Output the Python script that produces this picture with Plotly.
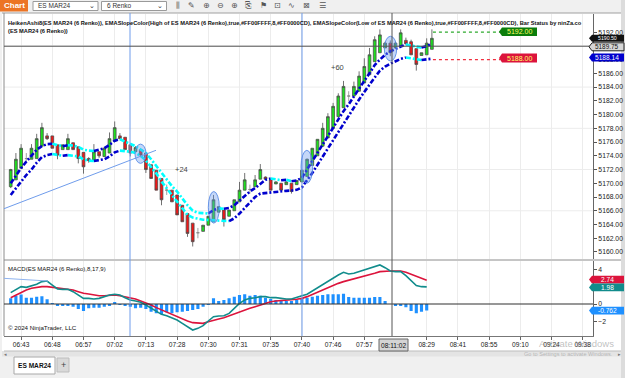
import plotly.graph_objects as go

# ---------------- data ----------------
bar_open = [5169.5, 5170.5, 5172.2, 5173.6, 5173.5, 5173.6, 5175.4, 5176.9, 5176.9, 5175.6,
            5174.9, 5174.9, 5175.9, 5175.3, 5174.5, 5173.6, 5173.4, 5174.6, 5173.9, 5174.4,
            5176.1, 5176.9, 5176.7, 5175.6, 5174.6, 5174.9, 5174.4, 5172.7, 5171.9, 5170.7,
            5169.0, 5169.0, 5168.3, 5166.8, 5165.6, 5164.2, 5162.8, 5163.0, 5163.9, 5164.4,
            5165.8, 5166.1, 5165.2, 5166.0, 5167.3, 5169.0, 5169.1, 5169.5, 5170.6, 5170.9,
            5170.5, 5169.9, 5170.0, 5169.8, 5170.0, 5169.8, 5170.2, 5171.0, 5172.6, 5174.0,
            5175.4, 5176.6, 5178.0, 5179.7, 5181.0, 5182.7, 5182.7, 5183.4, 5184.6, 5185.8,
            5187.7, 5189.0, 5189.7, 5190.4, 5189.7, 5189.9, 5190.8, 5190.6, 5189.6, 5188.6,
            5188.7, 5189.5]
bar_high = [5172.1, 5174.4, 5175.7, 5174.4, 5175.7, 5177.2, 5178.8, 5177.3, 5176.9, 5175.6,
            5175.6, 5177.2, 5175.9, 5175.3, 5174.5, 5173.8, 5175.7, 5174.6, 5175.3, 5177.4,
            5179.0, 5177.3, 5176.7, 5175.6, 5175.4, 5174.9, 5174.4, 5172.7, 5171.9, 5170.7,
            5169.8, 5169.0, 5168.3, 5166.8, 5165.6, 5164.2, 5163.5, 5163.9, 5165.2, 5168.3,
            5166.6, 5166.1, 5166.1, 5167.6, 5170.2, 5171.5, 5169.8, 5171.2, 5172.8, 5171.0,
            5170.5, 5170.3, 5170.0, 5170.3, 5170.0, 5170.4, 5172.0, 5173.6, 5175.1, 5176.4,
            5178.8, 5180.2, 5181.7, 5183.1, 5184.9, 5183.4, 5184.8, 5186.3, 5188.2, 5189.7,
            5191.4, 5192.4, 5190.6, 5190.8, 5190.6, 5192.4, 5191.2, 5190.9, 5189.6, 5189.0,
            5191.1, 5192.4]
bar_low = [5169.3, 5170.5, 5172.2, 5173.0, 5173.5, 5173.6, 5175.4, 5176.3, 5175.1, 5173.5,
           5174.9, 5174.9, 5174.9, 5172.9, 5171.4, 5173.0, 5173.4, 5173.7, 5173.9, 5174.4,
           5176.1, 5176.4, 5174.9, 5173.9, 5174.6, 5173.8, 5171.5, 5170.7, 5169.0, 5166.8,
           5168.3, 5167.3, 5165.4, 5164.4, 5162.2, 5160.8, 5162.0, 5163.0, 5163.9, 5164.4,
           5165.8, 5163.7, 5165.2, 5166.0, 5167.3, 5169.0, 5168.5, 5169.5, 5170.6, 5170.6,
           5169.0, 5169.9, 5169.0, 5169.8, 5168.5, 5169.8, 5170.2, 5171.0, 5172.6, 5174.0,
           5175.4, 5176.6, 5178.0, 5179.7, 5181.0, 5181.9, 5182.7, 5183.4, 5184.6, 5185.8,
           5187.7, 5189.0, 5189.7, 5188.5, 5189.7, 5189.9, 5190.3, 5188.7, 5186.4, 5188.6,
           5188.7, 5189.5]
bar_close = [5172.0, 5173.5, 5175.1, 5173.6, 5175.1, 5176.5, 5178.1, 5176.5, 5175.1, 5174.1,
             5175.6, 5176.5, 5174.9, 5173.6, 5172.4, 5173.3, 5174.6, 5174.0, 5175.1, 5176.5,
             5178.1, 5176.5, 5174.9, 5174.4, 5175.2, 5174.1, 5172.0, 5170.7, 5169.0, 5167.6,
             5169.0, 5167.3, 5165.4, 5164.4, 5162.7, 5161.5, 5162.8, 5163.9, 5165.2, 5167.6,
             5166.6, 5164.7, 5166.1, 5167.6, 5169.0, 5170.5, 5169.1, 5170.5, 5172.0, 5170.6,
             5169.0, 5170.2, 5169.0, 5170.2, 5168.8, 5170.4, 5171.9, 5173.5, 5175.1, 5176.4,
             5178.0, 5179.7, 5181.2, 5182.7, 5184.1, 5182.7, 5184.1, 5185.6, 5187.0, 5188.7,
             5190.9, 5191.6, 5190.4, 5189.0, 5190.4, 5191.9, 5190.3, 5188.7, 5187.3, 5189.0,
             5190.4, 5191.1]

ema_high = [5170.0, 5171.2, 5172.2, 5173.15, 5174.1, 5174.9, 5175.4, 5175.7, 5175.75, 5175.6,
            5175.4, 5175.55, 5175.5, 5175.3, 5174.9, 5174.75, 5174.7, 5174.9, 5175.1, 5175.6,
            5176.2, 5176.4, 5176.1, 5175.7, 5175.4, 5174.9, 5174.4, 5173.5, 5172.5, 5171.45,
            5170.5, 5169.6, 5168.8, 5167.8, 5166.8, 5166.0, 5165.7, 5165.65, 5165.6, 5166.1,
            5166.35, 5166.3, 5166.4, 5166.8, 5167.5, 5168.2, 5168.8, 5169.3, 5169.9, 5170.5,
            5170.7, 5170.6, 5170.45, 5170.5, 5170.3, 5170.4, 5170.8, 5172.0, 5173.3, 5174.6,
            5175.7, 5177.0, 5178.05, 5179.3, 5180.5, 5181.5, 5182.7, 5183.8, 5184.9, 5186.0,
            5187.2, 5188.0, 5188.7, 5189.2, 5189.6, 5189.9, 5190.2, 5190.1, 5189.9, 5189.75,
            5189.95, 5190.3]
ema_low = [5168.3, 5169.3, 5170.2, 5171.2, 5172.0, 5173.0, 5173.8, 5174.1, 5174.25, 5174.1,
           5174.0, 5174.1, 5174.05, 5173.9, 5173.5, 5173.3, 5173.25, 5173.4, 5173.5, 5173.9,
           5174.5, 5174.75, 5174.7, 5174.6, 5174.4, 5174.0, 5173.3, 5172.4, 5171.45, 5170.25,
           5169.3, 5168.3, 5167.3, 5166.4, 5165.4, 5165.0, 5164.8, 5164.7, 5164.65, 5164.6,
           5164.6, 5164.55, 5164.5, 5164.9, 5165.6, 5166.4, 5167.2, 5168.0, 5168.5, 5168.6,
           5168.7, 5168.8, 5168.85, 5168.9, 5168.95, 5169.05, 5169.4, 5170.4, 5171.5, 5172.7,
           5173.9, 5175.1, 5176.35, 5177.6, 5178.8, 5179.9, 5181.1, 5182.2, 5183.3, 5184.4,
           5185.4, 5186.4, 5187.0, 5187.4, 5187.75, 5188.1, 5188.3, 5188.2, 5188.0, 5187.95,
           5188.0, 5188.14]

macd_line = [1.31, 1.62, 2.0, 1.92, 2.12, 2.27, 2.58, 2.65, 2.19, 1.73,
             1.69, 1.69, 1.42, 1.04, 0.65, 0.65, 0.58, 0.65, 0.85, 1.04,
             1.12, 1.04, 0.73, 0.46, 0.35, 0.19, -0.12, -0.5, -0.88, -1.19,
             -1.35, -1.58, -1.85, -2.23, -2.62, -3.0, -2.81, -2.5, -1.96, -1.46,
             -1.38, -1.35, -1.08, -0.5, 0.08, 0.46, 0.65, 0.73, 0.85, 0.85,
             0.73, 0.73, 0.65, 0.58, 0.58, 0.73, 0.95, 1.12, 1.5, 1.88,
             2.27, 2.65, 3.04, 3.35, 3.65, 3.46, 3.54, 3.73, 3.92, 4.12,
             4.31, 4.5, 4.19, 3.81, 3.73, 3.73, 3.27, 2.65, 2.12, 2.0, 1.98]
macd_avg = [0.73, 1.04, 1.35, 1.62, 1.81, 1.92, 2.0, 2.0, 1.92, 1.88,
            1.81, 1.73, 1.62, 1.42, 1.23, 1.15, 1.04, 0.96, 0.96, 1.04,
            1.04, 0.96, 0.85, 0.73, 0.58, 0.35, 0.15, -0.12, -0.42, -0.69,
            -0.96, -1.19, -1.46, -1.73, -1.96, -2.15, -2.23, -2.23, -2.04, -1.85,
            -1.73, -1.58, -1.35, -1.19, -0.96, -0.69, -0.5, -0.31, -0.12, 0.08,
            0.27, 0.35, 0.42, 0.46, 0.5, 0.54, 0.65, 0.85, 1.12, 1.35,
            1.62, 1.88, 2.19, 2.38, 2.58, 2.73, 2.88, 3.04, 3.19, 3.35,
            3.54, 3.73, 3.81, 3.81, 3.81, 3.81, 3.65, 3.42, 3.15, 2.96, 2.74]
macd_diff = [0.65, 0.96, 1.1, 0.73, 0.73, 0.85, 0.88, 0.54, 0.08, -0.19,
             -0.19, -0.12, -0.31, -0.58, -0.81, -0.5, -0.42, -0.42, -0.31, -0.12,
             0.19, -0.04, -0.12, -0.31, -0.5, -0.42, -0.58, -0.88, -1.08, -1.19,
             -0.96, -1.08, -0.96, -0.88, -0.81, -0.69, -0.58, -0.31, -0.04, 0.65,
             0.35, 0.46, 0.65, 0.85, 1.04, 1.12, 0.96, 1.04, 0.96, 0.73,
             0.58, 0.46, 0.46, 0.35, 0.35, 0.46, 0.7, 0.73, 0.85, 0.96,
             1.04, 1.12, 1.12, 1.12, 1.19, 0.81, 0.73, 0.73, 0.73, 0.73,
             0.81, 0.81, 0.35, 0.0, -0.12, -0.12, -0.38, -0.81, -1.08, -0.88, -0.762]

tick_bars = [2, 8, 14, 20, 26, 32, 38, 44, 50, 56, 62, 68, 80, 86, 92, 98, 104, 110]
time_labels = ["06:43", "06:48", "06:57", "07:02", "07:13", "07:28", "07:30", "07:31", "07:35",
               "07:40", "07:46", "07:57", "08:29", "08:41", "08:55", "09:10", "09:24", "09:38"]
cursor_time = "08:11:02"
cursor_price = 5189.75
last_price = 5190.50
status_up = 5192.00
status_down = 5188.00
price_ticks = list(range(5160, 5193, 2))
macd_ticks = [-2, 0, 2, 4]

# ---------------- geometry ----------------
W, H = 625, 378
def px(x): return x / W
def py(y): return 1 - y / H
PL, PR = 4, 593
PT, PB = 14, 259
MT, MB = 261, 335.5
BAR0, BARW = 10.7, 5.2
def bx(xpix): return (xpix - BAR0) / BARW
XR = [bx(PL), bx(PR)]
YR = [5174 - (PB - 155.8) / 6.87, 5174 + (155.8 - PT) / 6.87]
YR2 = [(304 - MB) / 8.67, (304 - MT) / 8.67]

BLUE, CYAN = "#0000CD", "#00FFFF"
FONT = "Liberation Sans"

n = len(bar_close)
idx = list(range(n))
fig = go.Figure()

def cs(ids, fill, line):
    sty = dict(fillcolor=fill, line=dict(color=line, width=0.8))
    return go.Candlestick(x=ids, open=[bar_open[i] for i in ids], high=[bar_high[i] for i in ids],
                          low=[bar_low[i] for i in ids], close=[bar_close[i] for i in ids],
                          increasing=sty, decreasing=sty, whiskerwidth=0, xaxis="x", yaxis="y",
                          showlegend=False, hoverinfo="skip")

up = [i for i in idx if bar_close[i] > bar_open[i]]
dn = [i for i in idx if bar_close[i] < bar_open[i]]
fl = [i for i in idx if bar_close[i] == bar_open[i]]
fig.add_trace(cs(up, "#1EE01E", "#4d4d4d"))
fig.add_trace(cs(dn, "#F01818", "#4d4d4d"))
fig.add_trace(cs(fl, "#9a9a9a", "#8a8a8a"))

def slope_runs(vals):
    runs = []
    for i in range(len(vals) - 1):
        col = BLUE if vals[i + 1] > vals[i] else CYAN
        if runs and runs[-1][0] == col:
            runs[-1][1].append(i + 1); runs[-1][2].append(vals[i + 1])
        else:
            runs.append([col, [i, i + 1], [vals[i], vals[i + 1]]])
    return runs

for band in (ema_high, ema_low):
    for col, xs, ys in slope_runs(band):
        fig.add_trace(go.Scatter(x=xs, y=ys, mode="lines", xaxis="x", yaxis="y",
                                 line=dict(color=col, width=2.6, dash="5px,2px,2px,2px"),
                                 showlegend=False, hoverinfo="skip"))

m = len(macd_diff)
fig.add_trace(go.Bar(x=idx[:m], y=macd_diff, marker=dict(color="#1E90FF", line=dict(width=0)),
                     width=0.6, xaxis="x2", yaxis="y2", showlegend=False, hoverinfo="skip"))
fig.add_trace(go.Scatter(x=idx[:m], y=macd_avg, mode="lines", line=dict(color="#DC143C", width=1.6),
                         xaxis="x2", yaxis="y2", showlegend=False, hoverinfo="skip"))
fig.add_trace(go.Scatter(x=idx[:m], y=macd_line, mode="lines", line=dict(color="#118C8C", width=1.6),
                         xaxis="x2", yaxis="y2", showlegend=False, hoverinfo="skip"))

shapes = []
def rect(x0, y0, x1, y1, fill, line=None, lw=1, layer="below"):
    shapes.append(dict(type="rect", xref="paper", yref="paper", x0=px(x0), x1=px(x1), y0=py(y0), y1=py(y1),
                       fillcolor=fill, line=dict(color=line or fill, width=lw if line else 0), layer=layer))
def pline(x0, y0, x1, y1, color, w=1, layer="above", dash=None):
    shapes.append(dict(type="line", xref="paper", yref="paper", x0=px(x0), x1=px(x1), y0=py(y0), y1=py(y1),
                       line=dict(color=color, width=w, dash=dash), layer=layer))
def tag(xtip, xr, yc, h, fill, line=None):
    xb = xtip + 3
    path = (f"M{px(xtip)},{py(yc)} L{px(xb)},{py(yc - h / 2)} L{px(xr)},{py(yc - h / 2)} "
            f"L{px(xr)},{py(yc + h / 2)} L{px(xb)},{py(yc + h / 2)} Z")
    shapes.append(dict(type="path", xref="paper", yref="paper", path=path, fillcolor=fill,
                       line=dict(color=line or fill, width=1 if line else 0), layer="above"))

# chrome
rect(2, 13, 621, 351, "white")
rect(0, 0, 28, 11.5, "#EC7424")
rect(33, 1.5, 98, 10.5, "white", "#9a9a9a")
rect(101.5, 1.5, 166.5, 10.5, "white", "#9a9a9a")
rect(2, 351, 621, 356.5, "#e4e4e4")
rect(14, 357, 55, 374, "white", "#a8a8a8")
rect(57, 358, 69, 372, "#d9d9d9", "#bdbdbd")
rect(621, 0, 625, 378, "#dcdcdc")
pline(2, 13, 621, 13, "#a0a0a0")
pline(PL, 13, PL, 336, "#8c8c8c")
pline(PL, 260, 621, 260, "#8c8c8c")
pline(PL, 351, 621, 351, "#bdbdbd")

# grid
for g in range(5166, 5194, 6):
    shapes.append(dict(type="line", xref="paper", yref="y", x0=px(PL), x1=px(PR), y0=g, y1=g,
                       line=dict(color="#ececec", width=1), layer="below"))
shapes.append(dict(type="line", xref="paper", yref="y2", x0=px(PL), x1=px(PR), y0=0, y1=0,
                   line=dict(color="#303030", width=1.2), layer="above"))

# drawings
for xv in (bx(130), bx(302)):
    shapes.append(dict(type="line", xref="x", yref="paper", x0=xv, x1=xv, y0=py(336), y1=py(13),
                       line=dict(color="#6f9ceb", width=1), layer="above"))
shapes.append(dict(type="line", xref="x", yref="y", x0=bx(PL), y0=5166.3, x1=bx(156), y1=5174.8,
                   line=dict(color="#6f9ceb", width=1)))
shapes.append(dict(type="line", xref="x2", yref="y2", x0=bx(PL), y0=2.96, x1=bx(48), y1=2.65,
                   line=dict(color="#8fb3ef", width=1)))
for (x0, x1, y0, y1) in [(135, 146, 5172.9, 5175.7), (208.3, 219.3, 5164.2, 5168.8),
                         (301, 312.7, 5170.0, 5174.8), (384.3, 396.7, 5187.8, 5191.4)]:
    shapes.append(dict(type="circle", xref="x", yref="y", x0=bx(x0), x1=bx(x1), y0=y0, y1=y1,
                       fillcolor="rgba(100,149,237,0.38)", line=dict(color="rgba(90,140,230,0.9)", width=1)))
# crosshair
shapes.append(dict(type="line", xref="x", yref="paper", x0=bx(392), x1=bx(392), y0=py(336), y1=py(13),
                   line=dict(color="#555555", width=1), layer="above"))
shapes.append(dict(type="line", xref="paper", yref="y", x0=px(PL), x1=px(PR), y0=5189.95, y1=5189.95,
                   line=dict(color="#555555", width=1), layer="above"))
# bar status lines
shapes.append(dict(type="line", xref="x", yref="y", x0=n - 1 + 0.2, x1=bx(500), y0=status_up, y1=status_up,
                   line=dict(color="#2eaa2e", width=1.2, dash="dot")))
shapes.append(dict(type="line", xref="x", yref="y", x0=n - 1 + 0.2, x1=bx(500), y0=status_down, y1=status_down,
                   line=dict(color="#f03040", width=1.2, dash="dot")))

def ypx(price): return 155.8 - (price - 5174) * 6.87

tag(499, 537, ypx(status_up) - 0.5, 8.5, "#0B7D0B")
tag(499, 537, ypx(status_down) - 1.5, 9, "#DC143C")
tag(589, 624, 38.3, 7.0, "#111111")
tag(589, 624, 46.8, 8, "#d6d6d6", "#222222")
tag(589, 624, 57.5, 8, BLUE)
tag(589, 624, 279.6, 7.6, "#DC143C")
tag(589, 624, 287.4, 7.6, "#118C8C")
tag(589, 624, 310.6, 7.6, "#1E90FF")
rect(379, 339, 408, 351, "#d4d4d4", "#666666", layer="above")

anns = []
def txt(x, y, s, size=7, color="#111", anchor="left", bold=False, family=FONT, yanchor="middle"):
    anns.append(dict(xref="paper", yref="paper", x=px(x), y=py(y), text=(f"<b>{s}</b>" if bold else s),
                     showarrow=False, xanchor=anchor, yanchor=yanchor,
                     font=dict(size=size, color=color, family=family)))

title1 = ("HeikenAshi8(ES MAR24 (6 Renko)), EMASlopeColor(High of ES MAR24 (6 Renko),true,#FF00FFFF,8,#FF0000CD), "
          "EMASlopeColor(Low of ES MAR24 (6 Renko),true,#FF00FFFF,8,#FF0000CD), Bar Status by ninZa.co")
txt(6, 23, title1, size=5.7, bold=True)
txt(6, 31, "(ES MAR24 (6 Renko))", size=5.7, bold=True)
txt(6, 268.5, "MACD(ES MAR24 (6 Renko),8,17,9)", size=6.0)
txt(6, 327.5, "© 2024 NinjaTrader, LLC", size=6.2)
txt(14, 6, "Chart", size=8, color="white", anchor="center", bold=True)
txt(36, 6, "ES MAR24", size=6.5, color="#333")
txt(92, 6, "⌄", size=7, color="#333", anchor="center")
txt(105, 6, "6 Renko", size=6.5, color="#333")
txt(160, 6, "⌄", size=7, color="#333", anchor="center")
for xi, g in zip([178, 192, 206, 220, 234, 248, 263, 277, 291, 306, 322],
                 ["⫼", "✎", "⊕", "⊖", "⊕", "⎘", "⚑", "⊡", "∿", "⊠", "☰"]):
    txt(xi, 6, g, size=8, color="#555", anchor="center", family="DejaVu Sans")
anns.append(dict(xref="x", yref="y", x=bx(181), y=5172.05, text="+24", showarrow=False,
                 font=dict(size=7.5, color="#444", family=FONT)))
anns.append(dict(xref="x", yref="y", x=bx(337), y=5186.8, text="+60", showarrow=False,
                 font=dict(size=7.5, color="#444", family=FONT)))
txt(519, ypx(status_up) - 0.5, f"{status_up:.2f}", size=7, color="#FFFF66", anchor="center")
txt(519, ypx(status_down) - 1.5, f"{status_down:.2f}", size=7, color="#FFFF66", anchor="center")
txt(607, 38.0, f"{last_price:.2f}", size=5.2, color="white", anchor="center")
txt(607, 46.8, f"{cursor_price:.2f}", size=6.4, color="#111", anchor="center")
txt(607, 57.5, f"{ema_low[-1]:.2f}", size=6.6, color="white", anchor="center")
txt(607, 279.6, f"{macd_avg[-1]:.2f}", size=6.6, color="white", anchor="center")
txt(607, 287.4, f"{macd_line[-1]:.2f}", size=6.6, color="white", anchor="center")
txt(607, 310.6, f"{macd_diff[-1]:.3f}", size=6.6, color="white", anchor="center")
txt(393.5, 345, cursor_time, size=6.6, color="#111", anchor="center")
txt(34.5, 365.5, "ES MAR24", size=6.6, color="#111", anchor="center", bold=True)
txt(63, 365, "+", size=9, color="#444", anchor="center")
txt(6, 354, "◂", size=5, color="#777", anchor="center")
txt(619.5, 354, "▸", size=5, color="#777", anchor="center")
txt(616, 343, "Activate Windows", size=9.5, color="rgba(140,140,140,0.55)", anchor="right")
txt(615, 354, "Go to Settings to activate Windows.", size=5.6, color="rgba(140,140,140,0.55)", anchor="right")

axis_common = dict(range=XR, domain=[px(PL), px(PR)], tickvals=tick_bars, showgrid=True,
                   gridcolor="#ececec", gridwidth=1, zeroline=False, fixedrange=True)
fig.update_layout(
    width=W, height=H, margin=dict(l=0, r=0, t=0, b=0),
    paper_bgcolor="#f0f0f0", plot_bgcolor="white", boxgap=0.25, bargap=0.4,
    showlegend=False,
    xaxis=dict(**axis_common, anchor="y", showticklabels=False, ticks="", rangeslider=dict(visible=False)),
    yaxis=dict(domain=[py(PB), py(PT)], range=YR, side="right", anchor="x", tickvals=price_ticks,
               tickformat=".2f", showgrid=False, zeroline=False, ticks="outside", ticklen=3,
               tickcolor="#555", showline=True, linecolor="#666", linewidth=1,
               tickfont=dict(size=6.8, color="#222", family=FONT), fixedrange=True),
    xaxis2=dict(**axis_common, anchor="y2", ticktext=time_labels, ticks="outside", ticklen=3,
                tickcolor="#666", showline=True, linecolor="#777", linewidth=1,
                tickfont=dict(size=6.6, color="#222", family=FONT)),
    yaxis2=dict(domain=[py(MB), py(MT)], range=YR2, side="right", anchor="x2", tickvals=macd_ticks,
                showgrid=False, zeroline=False, ticks="outside", ticklen=3, tickcolor="#555",
                showline=True, linecolor="#666", linewidth=1,
                tickfont=dict(size=6.8, color="#222", family=FONT), fixedrange=True),
    shapes=shapes, annotations=anns,
)
fig.write_html("out.html")
